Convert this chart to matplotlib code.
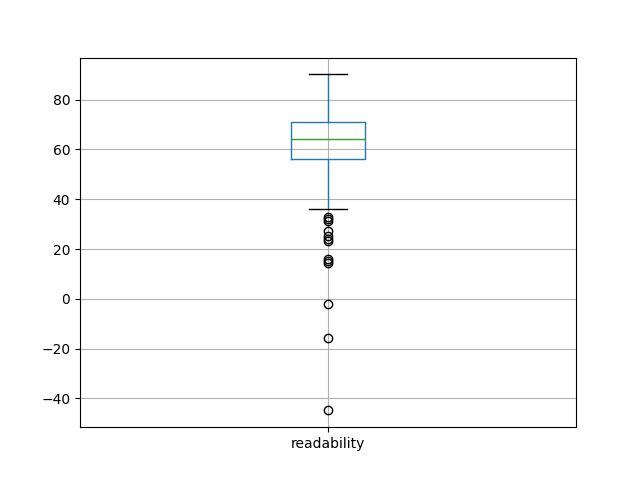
import matplotlib
matplotlib.use("Agg")
import matplotlib.pyplot as plt

label = "readability"
q1 = 56.2
median = 64.1
q3 = 71.1
whisker_low = 36.0
whisker_high = 90.1
outliers = [33.0, 32.0, 31.2, 27.4, 25.2, 24.0, 23.3, 15.8, 15.0, 14.2, -1.9, -15.9, -44.8]


def main():
    fig, ax = plt.subplots(figsize=(6.4, 4.8), dpi=100)
    stats = [{
        "label": label,
        "q1": q1,
        "med": median,
        "q3": q3,
        "whislo": whisker_low,
        "whishi": whisker_high,
        "fliers": outliers,
    }]
    ax.bxp(
        stats,
        boxprops={"color": "#1f77b4"},
        whiskerprops={"color": "#1f77b4"},
        medianprops={"color": "#2ca02c"},
        capprops={"color": "k"},
        flierprops={"marker": "o", "markeredgecolor": "k", "markerfacecolor": "none"},
    )
    ax.grid(True)
    fig.savefig("out.png")


main()
